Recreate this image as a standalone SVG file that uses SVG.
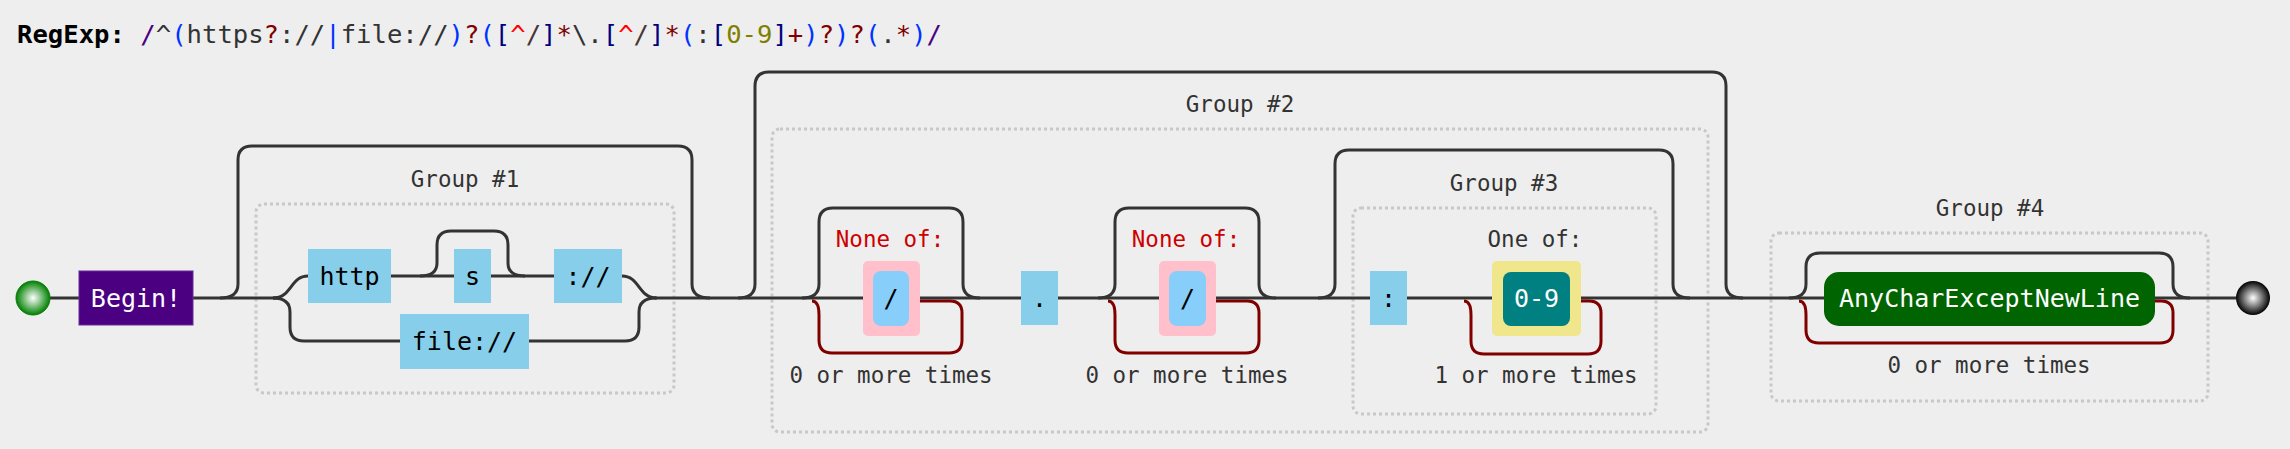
<svg xmlns="http://www.w3.org/2000/svg" width="2290" height="449" viewBox="0 0 2290 449">
<defs>
  <radialGradient id="gStart" cx="0.5" cy="0.5" r="0.5">
    <stop offset="0" stop-color="#ffffff"/>
    <stop offset="1" stop-color="#008000"/>
  </radialGradient>
  <radialGradient id="gEnd" cx="0.5" cy="0.5" r="0.5">
    <stop offset="0" stop-color="#ffffff"/>
    <stop offset="1" stop-color="#000000"/>
  </radialGradient>
  <style>
    .mono{font-family:"DejaVu Sans Mono","Liberation Mono",monospace}
    .line{fill:none;stroke:#333;stroke-width:3}
    .rep{fill:none;stroke:#800000;stroke-width:3}
    .grp{fill:none;stroke:#c8c8c8;stroke-width:3;stroke-dasharray:3 3}
    .lbl{font-family:"DejaVu Sans Mono","Liberation Mono",monospace;font-size:22.5px;fill:#333;text-anchor:middle}
    .nt{font-family:"DejaVu Sans Mono","Liberation Mono",monospace;font-size:25px;text-anchor:middle;fill:#000}
    .wt{fill:#fff}
    .lit{fill:#87ceeb}
    .b{fill:#0033ff}.d{fill:#333}.r{fill:#800000}.n{fill:#000080}.x{fill:#ff0000}.s{fill:#4a3535}.o{fill:#808000}.p{fill:#4b0082}
  </style>
</defs>
<rect width="2290" height="449" fill="#eeeeee"/>

<text class="mono" x="17" y="43" font-size="25.6" xml:space="preserve"><tspan font-weight="bold" fill="#000">RegExp:</tspan> <tspan class="p">/</tspan><tspan class="d">^</tspan><tspan class="b">(</tspan><tspan class="d">https</tspan><tspan class="r">?</tspan><tspan class="d">://</tspan><tspan class="b">|</tspan><tspan class="d">file://</tspan><tspan class="b">)</tspan><tspan class="r">?</tspan><tspan class="b">(</tspan><tspan class="n">[</tspan><tspan class="x">^</tspan><tspan class="s">/</tspan><tspan class="n">]</tspan><tspan class="r">*</tspan><tspan class="d">\.</tspan><tspan class="n">[</tspan><tspan class="x">^</tspan><tspan class="s">/</tspan><tspan class="n">]</tspan><tspan class="r">*</tspan><tspan class="b">(</tspan><tspan class="d">:</tspan><tspan class="n">[</tspan><tspan class="o">0-9</tspan><tspan class="n">]</tspan><tspan class="r">+</tspan><tspan class="b">)</tspan><tspan class="r">?</tspan><tspan class="b">)</tspan><tspan class="r">?</tspan><tspan class="b">(</tspan><tspan class="d">.</tspan><tspan class="r">*</tspan><tspan class="b">)</tspan><tspan class="p">/</tspan></text>

<g id="groups">
  <g id="group1"><rect class="grp" x="256" y="204" width="418" height="189" rx="8"/><text class="lbl" x="465" y="187">Group #1</text></g>
  <g id="group2"><rect class="grp" x="772" y="129" width="936" height="303" rx="8"/><text class="lbl" x="1240" y="112">Group #2</text></g>
  <g id="group3"><rect class="grp" x="1353" y="208" width="303" height="206" rx="8"/><text class="lbl" x="1504" y="191">Group #3</text></g>
  <g id="group4"><rect class="grp" x="1771" y="233" width="437" height="168" rx="8"/><text class="lbl" x="1990" y="216">Group #4</text></g>
</g>

<g id="connectors">
  <path class="line" d="M50,298 H79 M193,298 H277 M655,298 H2236"/>
  <path class="line" d="M273,298 C292,298 290,276 308,276"/>
  <path class="line" d="M273,298 q17,0 17,14 V327 q0,14 14,14 H400"/>
  <path class="line" d="M391,276 H554"/>
  <path class="line" d="M420,276 q17,0 17,-13 V245 q0,-14 14,-14 H494 q14,0 14,14 V263 q0,13 17,13"/>
  <path class="line" d="M622,276 C640,276 638,298 657,298"/>
  <path class="line" d="M529,341 H625 q14,0 14,-14 V312 q0,-14 17,-14"/>
  <path class="line" d="M220,298 q18,0 18,-14 V160 q0,-14 14,-14 H678 q14,0 14,14 V284 q0,14 18,14"/>
  <path class="line" d="M738,298 q17,0 17,-14 V86 q0,-14 14,-14 H1712 q14,0 14,14 V284 q0,14 17,14"/>
  <path class="line" d="M802,298 q17,0 17,-14 V222 q0,-14 14,-14 H949 q14,0 14,14 V284 q0,14 17,14"/>
  <path class="line" d="M1098,298 q17,0 17,-14 V222 q0,-14 14,-14 H1245 q14,0 14,14 V284 q0,14 17,14"/>
  <path class="line" d="M1318,298 q17,0 17,-14 V164 q0,-14 14,-14 H1659 q14,0 14,14 V284 q0,14 17,14"/>
  <path class="line" d="M1789,298 q17,0 17,-14 V267 q0,-14 14,-14 H2159 q14,0 14,14 V284 q0,14 17,14"/>
  <path class="rep" d="M920,301 H950 q12,0 12,12 V340 q0,13 -13,13 H832 q-13,0 -13,-13 V315 q0,-14 -7,-14"/>
  <path class="rep" d="M1216,301 H1247 q12,0 12,12 V340 q0,13 -13,13 H1128 q-13,0 -13,-13 V315 q0,-14 -7,-14"/>
  <path class="rep" d="M1581,301 H1589 q12,0 12,12 V341 q0,13 -13,13 H1484 q-13,0 -13,-13 V315 q0,-14 -7,-14"/>
  <path class="rep" d="M2155,301 H2161 q12,0 12,12 V330 q0,13 -13,13 H1819 q-13,0 -13,-13 V315 q0,-14 -7,-14"/>
</g>

<g id="start"><circle cx="33" cy="298" r="17" fill="url(#gStart)" stroke="#0a7a0a" stroke-width="1"/></g>
<g id="begin"><rect x="79" y="271" width="114" height="54" fill="#4b0082" stroke="#6a2a9a" stroke-width="1"/><text class="nt wt" x="136" y="307">Begin!</text></g>
<g id="http"><rect class="lit" x="308" y="249" width="83" height="54"/><text class="nt" x="349.5" y="285">http</text></g>
<g id="s"><rect class="lit" x="454" y="249" width="37" height="54"/><text class="nt" x="472.5" y="285">s</text></g>
<g id="slashes"><rect class="lit" x="554" y="249" width="68" height="54"/><text class="nt" x="588" y="285">://</text></g>
<g id="file"><rect class="lit" x="400" y="314" width="129" height="55"/><text class="nt" x="464.5" y="350">file://</text></g>

<g id="noneof1">
  <text class="lbl" x="890" y="247" style="fill:#cc0000">None of:</text>
  <rect x="863" y="261" width="57" height="75" rx="5" fill="#ffc0cb"/>
  <rect x="873" y="271" width="36" height="55" rx="8" fill="#87cefa"/>
  <text class="nt" x="891" y="307">/</text>
  <text class="lbl" x="891" y="383">0 or more times</text>
</g>
<g id="dot"><rect class="lit" x="1021" y="271" width="37" height="54"/><text class="nt" x="1039.5" y="307">.</text></g>
<g id="noneof2">
  <text class="lbl" x="1186" y="247" style="fill:#cc0000">None of:</text>
  <rect x="1159" y="261" width="57" height="75" rx="5" fill="#ffc0cb"/>
  <rect x="1169" y="271" width="37" height="55" rx="8" fill="#87cefa"/>
  <text class="nt" x="1187.5" y="307">/</text>
  <text class="lbl" x="1187" y="383">0 or more times</text>
</g>
<g id="colon"><rect class="lit" x="1370" y="271" width="37" height="54"/><text class="nt" x="1388.5" y="307">:</text></g>
<g id="oneof">
  <text class="lbl" x="1535" y="247">One of:</text>
  <rect x="1492" y="261" width="89" height="75" rx="5" fill="#f0e68c"/>
  <rect x="1503" y="272" width="67" height="54" rx="8" fill="#008080"/>
  <text class="nt wt" x="1536.5" y="307">0-9</text>
  <text class="lbl" x="1536" y="383">1 or more times</text>
</g>
<g id="anychar">
  <rect x="1824" y="272" width="331" height="54" rx="15" fill="#006400"/>
  <text class="nt wt" x="1989.5" y="307">AnyCharExceptNewLine</text>
  <text class="lbl" x="1989" y="373">0 or more times</text>
</g>
<g id="end"><circle cx="2253" cy="298" r="17" fill="url(#gEnd)"/></g>
</svg>
